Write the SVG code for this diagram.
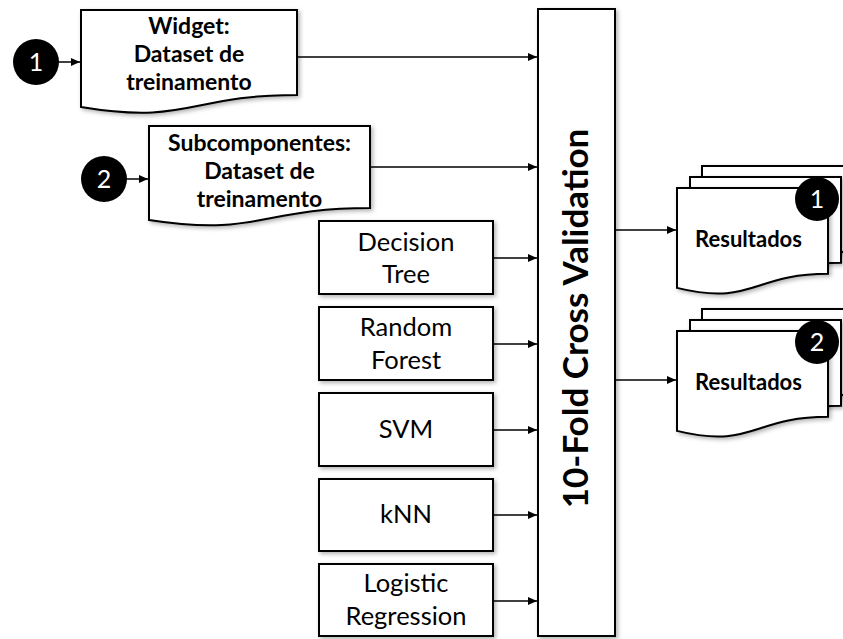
<svg xmlns="http://www.w3.org/2000/svg" width="843" height="639" viewBox="0 0 843 639">
  <style>
    .shape { fill: #ffffff; stroke: #000000; stroke-width: 2; }
    .conn { stroke: #000000; stroke-width: 1.5; fill: none; }
    .badge { fill: #000000; }
    .num { fill: #ffffff; font-family: Lato, "Liberation Sans", sans-serif; font-size: 25px; text-anchor: middle; }
    .bold { font-family: Lato, "Liberation Sans", sans-serif; font-weight: bold; fill: #000000; text-anchor: middle; }
    .doc { font-size: 23px; }
    .res { font-size: 22px; }
    .model { font-family: Lato, "Liberation Sans", sans-serif; font-size: 25.5px; fill: #000000; text-anchor: middle; }
    .big { font-size: 35px; }
  </style>
  <defs>
    <filter id="shadow" x="-10%" y="-10%" width="130%" height="130%">
      <feDropShadow dx="2" dy="2" stdDeviation="2" flood-color="#000000" flood-opacity="0.3"/>
    </filter>
    <marker id="arrow" markerUnits="userSpaceOnUse" markerWidth="10" markerHeight="8" refX="9" refY="4" orient="auto">
      <path d="M0,0 L9,4 L0,8 Z" fill="#000000"/>
    </marker>
  </defs>

  <g id="connectors">
    <line class="conn" x1="59" y1="62" x2="80" y2="62" marker-end="url(#arrow)"/>
    <line class="conn" x1="127" y1="179" x2="148" y2="179" marker-end="url(#arrow)"/>
    <line class="conn" x1="297" y1="57" x2="537" y2="57" marker-end="url(#arrow)"/>
    <line class="conn" x1="370" y1="167" x2="537" y2="167" marker-end="url(#arrow)"/>
    <line class="conn" x1="493" y1="258" x2="537" y2="258" marker-end="url(#arrow)"/>
    <line class="conn" x1="493" y1="344" x2="537" y2="344" marker-end="url(#arrow)"/>
    <line class="conn" x1="493" y1="430" x2="537" y2="430" marker-end="url(#arrow)"/>
    <line class="conn" x1="493" y1="515" x2="537" y2="515" marker-end="url(#arrow)"/>
    <line class="conn" x1="493" y1="601" x2="537" y2="601" marker-end="url(#arrow)"/>
    <line class="conn" x1="615" y1="230" x2="676" y2="230" marker-end="url(#arrow)"/>
    <line class="conn" x1="615" y1="380" x2="676" y2="380" marker-end="url(#arrow)"/>
  </g>

  <g id="badge-in-1">
    <circle class="badge" cx="36" cy="62" r="23"/>
    <text class="num" x="36" y="71">1</text>
  </g>
  <g id="badge-in-2">
    <circle class="badge" cx="104" cy="179" r="23"/>
    <text class="num" x="104" y="188">2</text>
  </g>

  <g id="doc-widget">
    <path class="shape" filter="url(#shadow)" d="M81,10 H297 V95 C189,95 189,125 81,107 Z"/>
    <text class="bold doc" x="189" y="34">Widget:</text>
    <text class="bold doc" x="189" y="62">Dataset de</text>
    <text class="bold doc" x="189" y="90">treinamento</text>
  </g>

  <g id="doc-subcomponentes">
    <path class="shape" filter="url(#shadow)" d="M149,126 H370 V208 C259.5,208 259.5,237 149,220 Z"/>
    <text class="bold doc" x="259.5" y="151">Subcomponentes:</text>
    <text class="bold doc" x="259.5" y="179">Dataset de</text>
    <text class="bold doc" x="259.5" y="207">treinamento</text>
  </g>

  <g id="model-decision-tree">
    <rect class="shape" filter="url(#shadow)" x="319" y="221" width="174" height="73"/>
    <text class="model" x="406" y="251">Decision</text>
    <text class="model" x="406" y="283">Tree</text>
  </g>
  <g id="model-random-forest">
    <rect class="shape" filter="url(#shadow)" x="319" y="307" width="174" height="73"/>
    <text class="model" x="406" y="336">Random</text>
    <text class="model" x="406" y="369">Forest</text>
  </g>
  <g id="model-svm">
    <rect class="shape" filter="url(#shadow)" x="319" y="393" width="174" height="73"/>
    <text class="model" x="406" y="438">SVM</text>
  </g>
  <g id="model-knn">
    <rect class="shape" filter="url(#shadow)" x="319" y="479" width="174" height="72"/>
    <text class="model" x="406" y="523">kNN</text>
  </g>
  <g id="model-logistic-regression">
    <rect class="shape" filter="url(#shadow)" x="319" y="564" width="174" height="72"/>
    <text class="model" x="406" y="592">Logistic</text>
    <text class="model" x="406" y="625">Regression</text>
  </g>

  <g id="cross-validation">
    <rect class="shape" filter="url(#shadow)" x="538" y="9" width="77" height="627"/>
    <text class="bold big" transform="translate(588,318.5) rotate(-90)" x="0" y="0">10-Fold Cross Validation</text>
  </g>

  <g id="resultados-1">
    <path class="shape" filter="url(#shadow)" d="M702,166 H853 V251.8 C777.5,251.8 777.5,284.5 702,265.9 Z"/>
    <path class="shape" filter="url(#shadow)" d="M690,177 H841 V262.8 C765.5,262.8 765.5,295.5 690,276.9 Z"/>
    <path class="shape" filter="url(#shadow)" d="M677,188 H828 V273.8 C752.5,273.8 752.5,306.5 677,287.9 Z"/>
    <text class="bold res" x="748.5" y="247">Resultados</text>
    <circle class="badge" cx="817" cy="199" r="22"/>
    <text class="num" x="817" y="208">1</text>
  </g>

  <g id="resultados-2">
    <path class="shape" filter="url(#shadow)" d="M702,309 H853 V394.8 C777.5,394.8 777.5,427.5 702,408.9 Z"/>
    <path class="shape" filter="url(#shadow)" d="M690,320 H841 V405.8 C765.5,405.8 765.5,438.5 690,419.9 Z"/>
    <path class="shape" filter="url(#shadow)" d="M677,331 H828 V416.8 C752.5,416.8 752.5,449.5 677,430.9 Z"/>
    <text class="bold res" x="748.5" y="390">Resultados</text>
    <circle class="badge" cx="817" cy="342" r="22"/>
    <text class="num" x="817" y="351">2</text>
  </g>
</svg>
